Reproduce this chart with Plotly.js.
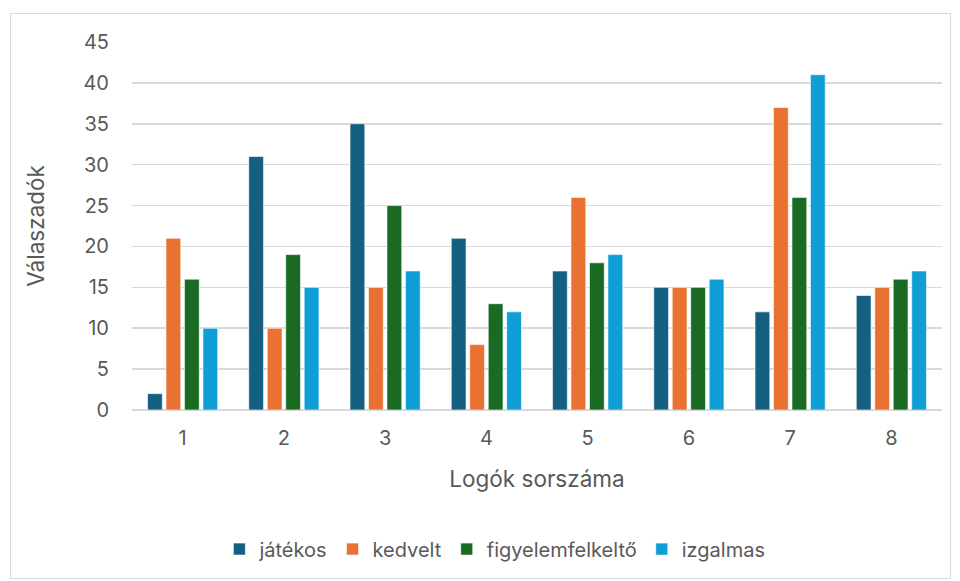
<!DOCTYPE html>
<html><head><meta charset="utf-8">
<script src="https://cdn.plot.ly/plotly-3.0.1.min.js"></script>
<style>
body{margin:0;background:#fff;}
#frame{position:absolute;left:10px;top:13px;width:941px;height:566px;border:1px solid #d9d9d9;box-sizing:border-box;}
#chart{position:absolute;left:0;top:0;width:960px;height:581px;}
</style></head>
<body>
<div id="frame"></div>
<div id="chart"></div>
<script>
const categories = ["1","2","3","4","5","6","7","8"];
const seriesNames = ["játékos","kedvelt","figyelemfelkeltő","izgalmas"];
const jatekos = [2,31,35,21,17,15,12,14];
const kedvelt = [21,10,15,8,26,15,37,15];
const figyelemfelkelto = [16,19,25,13,18,15,26,16];
const izgalmas = [10,15,17,12,19,16,41,17];
const colors = ["#156082","#E97132","#196B24","#0F9ED5"];
const values = [jatekos,kedvelt,figyelemfelkelto,izgalmas];

const fontFam = "Inter, 'Open Sans', sans-serif";
const traces = values.map((v,i)=>({
  type:"bar", x:categories, y:v, name:seriesNames[i],
  marker:{color:colors[i], line:{color:"rgba(255,255,255,0.6)", width:1}},
  hoverinfo:"skip"
}));
const layout = {
  width:960, height:581,
  paper_bgcolor:"rgba(0,0,0,0)", plot_bgcolor:"rgba(0,0,0,0)",
  margin:{l:132,r:18,t:42,b:171},
  barmode:"group", bargap:0.27, bargroupgap:0.2,
  font:{family:fontFam, color:"#595959", size:20},
  xaxis:{type:"category", showgrid:false, zeroline:false, showline:false, ticks:"",
    tickfont:{size:20,color:"#595959"}, ticklabelstandoff:14,
    title:{text:"Logók sorszáma", font:{size:22.5,color:"#595959"}, standoff:22}},
  yaxis:{range:[0,45], dtick:5, tick0:0, showgrid:true, gridcolor:"#d9d9d9", gridwidth:1.5,
    zeroline:true, zerolinecolor:"#d9d9d9", zerolinewidth:1.5, showline:false, ticks:"",
    tickfont:{size:20,color:"#595959"}, ticklabelstandoff:22,
    title:{text:"Válaszadók", font:{size:22.5,color:"#595959"}, standoff:32}},
  showlegend:true,
  legend:{orientation:"h", x:0.448, xanchor:"center", y:-0.378, yanchor:"middle",
    font:{size:20,color:"#595959"}, itemwidth:30, tracegroupgap:0},
};
Plotly.newPlot("chart", traces, layout, {displayModeBar:false, staticPlot:true});
</script>
</body></html>
